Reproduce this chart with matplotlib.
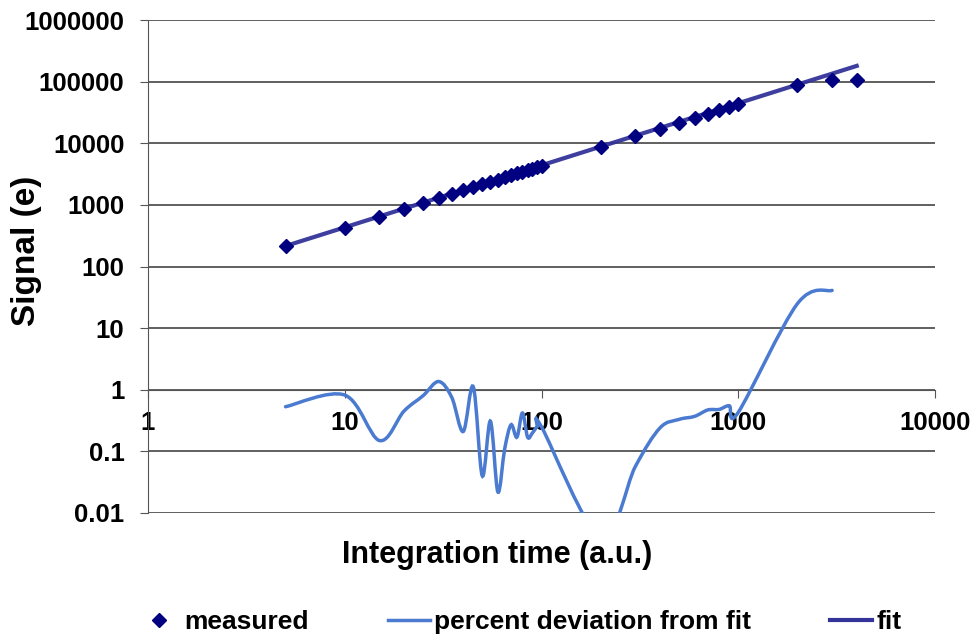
import numpy as np
import matplotlib
matplotlib.use("Agg")
import matplotlib.pyplot as plt
from matplotlib.path import Path
from matplotlib.patches import PathPatch
from matplotlib.lines import Line2D

plt.rcParams['font.family'] = ['Liberation Sans', 'DejaVu Sans']
plt.rcParams['font.weight'] = 'bold'

# measured signal vs integration time
t_meas = [5, 10, 15, 20, 25, 30, 35, 40, 45, 50, 55, 60, 65, 70, 75, 80, 85, 90, 95, 100,
          200, 300, 400, 500, 600, 700, 800, 900, 1000, 2000, 3000, 4000]
signal_meas = [212, 425, 640, 850, 1070, 1290, 1500, 1720, 1940, 2150, 2370, 2580, 2800,
               3010, 3230, 3440, 3660, 3870, 4090, 4300, 8600, 12900, 17200, 21500, 25800,
               30100, 34400, 38700, 43000, 89000, 106000, 107000]

# percent deviation from fit
t_dev = [5, 10, 15, 20, 25, 30, 35, 40, 45, 50, 55, 60, 65, 70, 75, 80, 85, 90, 95, 100,
         200, 300, 400, 500, 600, 700, 800, 900, 1000, 2000, 3000]
dev = [0.53, 0.82, 0.15, 0.45, 0.8, 1.36, 0.75, 0.21, 1.12, 0.04, 0.31, 0.022, 0.11, 0.27,
       0.17, 0.42, 0.17, 0.2, 0.25, 0.25, 0.004, 0.057, 0.24, 0.33, 0.37, 0.47, 0.48,
       0.55, 0.43, 25, 41]

# fit line
t_fit = [5, 4000]
signal_fit = [215, 180000]

fig = plt.figure(figsize=(9.76, 6.4), dpi=100)
ax = fig.add_axes([148/976, 1-513/640, (935-148)/976, (513-20)/640])
ax.set_xscale('log')
ax.set_yscale('log')
ax.set_xlim(1, 10000)
ax.set_ylim(0.01, 1000000)

# smoothed deviation line (bezier through the points, in log space like excel)
lx = np.log10(t_dev)
ly = np.log10(dev)
verts = [(lx[0], ly[0])]
codes = [Path.MOVETO]
n = len(lx)
for i in range(n - 1):
    p0 = (lx[max(i-1, 0)], ly[max(i-1, 0)])
    p1 = (lx[i], ly[i])
    p2 = (lx[i+1], ly[i+1])
    p3 = (lx[min(i+2, n-1)], ly[min(i+2, n-1)])
    c1 = (p1[0] + (p2[0]-p0[0])/6, p1[1] + (p2[1]-p0[1])/6)
    c2 = (p2[0] - (p3[0]-p1[0])/6, p2[1] - (p3[1]-p1[1])/6)
    verts += [c1, c2, p2]
    codes += [Path.CURVE4]*3
verts = 10**np.array(verts)
dev_color = '#4a7bd0'
ax.add_patch(PathPatch(Path(verts, codes), fill=False, edgecolor=dev_color, lw=2.5,
                       zorder=3, capstyle='round'))

fit_color = '#33339a'
ax.plot(t_fit, signal_fit, color=fit_color, lw=3, zorder=4, alpha=0.95)
ax.plot(t_meas, signal_meas, linestyle='none', marker='D', markersize=7,
        color='#000080', zorder=5)

# axes styling, excel-like
ax.set_yticks([0.01, 0.1, 1, 10, 100, 1000, 10000, 100000, 1000000])
ax.set_yticklabels(['0.01', '0.1', '1', '10', '100', '1000', '10000', '100000', '1000000'])
ax.set_xticks([1, 10, 100, 1000, 10000])
ax.set_xticklabels(['1', '10', '100', '1000', '10000'])
ax.minorticks_off()
ax.yaxis.grid(True, color='#444444', lw=1.2)
ax.set_axisbelow(True)
for s in ['top', 'right']:
    ax.spines[s].set_visible(False)
ax.spines['bottom'].set_position(('data', 1))
ax.spines['bottom'].set_color('#555555')
ax.spines['left'].set_color('#555555')
ax.tick_params(axis='both', direction='out', length=6, color='#555555', labelsize=18.5)
ax.tick_params(axis='x', pad=9)
ax.tick_params(axis='y', pad=11)

fig.text(27/976, 1-251/640, 'Signal (e)', rotation=90, ha='center', va='center',
         fontsize=24, fontweight='bold')
fig.text(497/976, 1-555/640, 'Integration time (a.u.)', ha='center', va='center',
         fontsize=22, fontweight='bold')

handles = [Line2D([], [], linestyle='none', marker='D', markersize=7, color='#000080'),
           Line2D([], [], color=dev_color, lw=2.5),
           Line2D([], [], color=fit_color, lw=3)]
labels = ['measured', 'percent deviation from fit', 'fit']
fig.legend(handles, labels, loc='center left', bbox_to_anchor=(138/976, 1-622/640),
           ncol=3, frameon=False, fontsize=19, handlelength=1.6, handletextpad=0.15,
           columnspacing=3.0, borderaxespad=0, borderpad=0)

fig.savefig('out.png', dpi=100)
